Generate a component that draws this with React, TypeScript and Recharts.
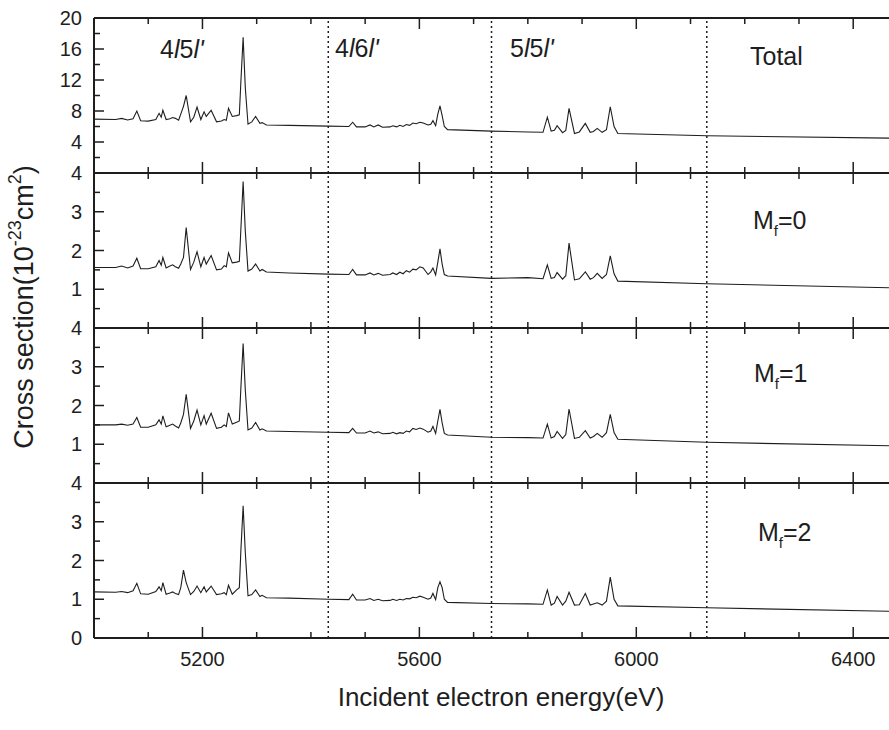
import React from "react";
import { LineChart, Line, XAxis, YAxis, ReferenceLine } from "recharts";

// incident electron energy grid (eV)
const energy = [
	5000, 5040, 5051, 5062, 5072, 5079, 5086, 5100, 5114, 5120, 5124, 5127, 5133,
	5140, 5145, 5150, 5156, 5160, 5165, 5170, 5178, 5184, 5190, 5197, 5203, 5207,
	5216, 5226, 5235, 5240, 5244, 5248, 5255, 5263, 5268, 5271, 5275, 5279, 5284,
	5291, 5298, 5306, 5310, 5318, 5360, 5432, 5470, 5477, 5484, 5500, 5509, 5516,
	5524, 5532, 5546, 5551, 5558, 5564, 5570, 5576, 5582, 5588, 5594, 5601, 5607,
	5616, 5621, 5625, 5630, 5634, 5638, 5642, 5646, 5652, 5733, 5800, 5828, 5836,
	5843, 5849, 5854, 5864, 5870, 5876, 5886, 5895, 5906, 5915, 5921, 5928, 5937,
	5945, 5952, 5959, 5966, 6130, 6466,
];

const total = [
	6.95, 6.9, 7.05, 6.85, 7.0, 8.0, 6.75, 6.7, 6.9, 7.7, 7.2, 8.1, 6.9,
	7.0, 7.15, 7.05, 6.8, 7.6, 8.6, 10.0, 6.6, 7.2, 8.5, 6.9, 7.9, 7.3,
	8.1, 6.6, 6.7, 6.9, 6.8, 8.35, 7.3, 7.4, 7.5, 12.0, 17.5, 11.0, 6.3,
	6.6, 7.3, 6.4, 6.5, 6.2, 6.15, 6.05, 6.0, 6.55, 5.95, 5.95, 6.2, 5.95,
	6.2, 5.9, 5.95, 6.1, 5.95, 6.15, 6.0, 6.25, 6.15, 6.45, 6.35, 6.55, 6.45,
	6.2, 6.3, 6.75, 6.1, 7.6, 8.65, 7.4, 6.0, 5.6, 5.4, 5.3, 5.25, 7.2,
	5.4, 5.5, 6.1, 5.2, 5.5, 8.35, 5.1, 5.3, 6.4, 5.25, 5.35, 5.75, 5.25,
	5.6, 8.55, 6.0, 5.1, 4.8, 4.5,
];

const mf0 = [
	1.56, 1.56, 1.6, 1.55, 1.6, 1.8, 1.53, 1.53, 1.58, 1.74, 1.62, 1.82, 1.55,
	1.6, 1.63, 1.58, 1.54, 1.65, 1.82, 2.59, 1.51, 1.7, 1.97, 1.58, 1.82, 1.65,
	1.87, 1.5, 1.52, 1.61, 1.58, 1.94, 1.68, 1.7, 1.72, 2.6, 3.78, 2.5, 1.47,
	1.52, 1.65, 1.47, 1.51, 1.445, 1.42, 1.39, 1.38, 1.51, 1.37, 1.37, 1.42, 1.37,
	1.41, 1.36, 1.38, 1.42, 1.38, 1.44, 1.4, 1.48, 1.44, 1.52, 1.5, 1.58, 1.55,
	1.38, 1.45, 1.55, 1.37, 1.7, 2.04, 1.65, 1.38, 1.34, 1.28, 1.3, 1.27, 1.63,
	1.28, 1.3, 1.43, 1.26, 1.35, 2.19, 1.24, 1.27, 1.45, 1.26, 1.3, 1.41, 1.28,
	1.38, 1.86, 1.4, 1.21, 1.14, 1.04,
];

const mf1 = [
	1.5, 1.5, 1.52, 1.49, 1.52, 1.69, 1.44, 1.44, 1.5, 1.63, 1.52, 1.73, 1.45,
	1.49, 1.52, 1.47, 1.42, 1.55, 1.77, 2.29, 1.41, 1.6, 1.88, 1.5, 1.74, 1.52,
	1.8, 1.41, 1.44, 1.5, 1.46, 1.81, 1.52, 1.57, 1.6, 2.5, 3.6, 2.4, 1.37,
	1.42, 1.56, 1.37, 1.4, 1.34, 1.33, 1.31, 1.3, 1.41, 1.29, 1.29, 1.34, 1.29,
	1.32, 1.27, 1.28, 1.31, 1.27, 1.3, 1.28, 1.34, 1.32, 1.41, 1.38, 1.42, 1.39,
	1.31, 1.34, 1.46, 1.28, 1.6, 1.9, 1.55, 1.28, 1.24, 1.18, 1.17, 1.16, 1.52,
	1.16, 1.2, 1.33, 1.15, 1.25, 1.91, 1.15, 1.18, 1.35, 1.16, 1.2, 1.28, 1.18,
	1.3, 1.77, 1.3, 1.13, 1.05, 0.96,
];

const mf2 = [
	1.19, 1.18, 1.2, 1.17, 1.22, 1.41, 1.14, 1.13, 1.2, 1.32, 1.22, 1.43, 1.13,
	1.16, 1.19, 1.15, 1.12, 1.3, 1.75, 1.43, 1.12, 1.2, 1.34, 1.17, 1.32, 1.19,
	1.34, 1.12, 1.14, 1.17, 1.12, 1.36, 1.13, 1.24, 1.3, 2.3, 3.41, 2.2, 1.09,
	1.12, 1.24, 1.07, 1.1, 1.04, 1.03, 1.0, 0.99, 1.13, 0.98, 0.98, 1.02, 0.97,
	1.0, 0.96, 0.97, 1.0, 0.97, 1.0, 0.98, 1.02, 1.01, 1.05, 1.04, 1.08, 1.05,
	1.0, 1.03, 1.15, 0.99, 1.3, 1.45, 1.3, 1.0, 0.92, 0.89, 0.88, 0.87, 1.24,
	0.85, 0.9, 1.07, 0.85, 0.95, 1.18, 0.85, 0.86, 1.15, 0.85, 0.88, 0.91, 0.85,
	0.95, 1.57, 1.0, 0.83, 0.78, 0.69,
];

const xTicks = [5000, 5100, 5200, 5300, 5400, 5500, 5600, 5700, 5800, 5900, 6000, 6100, 6200, 6300, 6400];
const xLabels = [5200, 5600, 6000, 6400];
const thresholds = [5432, 5733, 6130];

const totalTicks = [0, 2, 4, 6, 8, 10, 12, 14, 16, 18, 20];
const totalLabels = [4, 8, 12, 16, 20];
const mfTicks = [0, 0.5, 1, 1.5, 2, 2.5, 3, 3.5, 4];
const mfLabels = [1, 2, 3, 4];
const lastLabels = [0, 1, 2, 3, 4];

const INK = "#1e1e1e";
const FONT = "'Liberation Sans', Arial, sans-serif";
const W = 889;
const PANEL_H = 155;
const TOP = 18;
const LEFT = 94;

const panels = [
	{ name: "Total", values: total, max: 20, step: 4, ticks: totalTicks, labels: totalLabels },
	{ name: "Mf0", values: mf0, max: 4, step: 1, ticks: mfTicks, labels: mfLabels },
	{ name: "Mf1", values: mf1, max: 4, step: 1, ticks: mfTicks, labels: mfLabels },
	{ name: "Mf2", values: mf2, max: 4, step: 1, ticks: mfTicks, labels: lastLabels },
];

const makeBottomTick = (showLabels: boolean) => (props: any) => {
	const { x, y, payload } = props;
	const major = xLabels.includes(payload.value);
	return (
		<g>
			<line x1={x} x2={x} y1={y} y2={y - (major ? 11 : 6)} stroke={INK} strokeWidth={1.5} />
			{showLabels && major && (
				<text x={x} y={y + 28} textAnchor="middle" fontSize={20} fontFamily={FONT} fill={INK}>
					{payload.value}
				</text>
			)}
		</g>
	);
};

const topTick = (props: any) => {
	const { x, y, payload } = props;
	const major = xLabels.includes(payload.value);
	return <line x1={x} x2={x} y1={y} y2={y + (major ? 11 : 6)} stroke={INK} strokeWidth={1.5} />;
};

const makeLeftTick = (labels: number[], step: number) => (props: any) => {
	const { x, y, payload } = props;
	const major = Number.isInteger(payload.value / step);
	return (
		<g>
			<line x1={x} x2={x + (major ? 10 : 6)} y1={y} y2={y} stroke={INK} strokeWidth={1.5} />
			{labels.includes(payload.value) && (
				<text x={x - 12} y={y} dy="0.36em" textAnchor="end" fontSize={20} fontFamily={FONT} fill={INK}>
					{payload.value}
				</text>
			)}
		</g>
	);
};

function Panel({ index }: { index: number }) {
	const p = panels[index];
	const last = index === panels.length - 1;
	const mt = 14;
	const mb = last ? 39 : 14;
	const rows = energy.map((e, i) => ({ e, v: p.values[i] }));
	return (
		<div style={{ position: "absolute", left: 0, top: TOP + PANEL_H * index - mt - 1 }}>
			<LineChart width={W} height={PANEL_H + mt + mb + 2} data={rows} margin={{ top: mt, right: 0, bottom: mb, left: 0 }}>
				<XAxis
					dataKey="e"
					type="number"
					domain={[5000, 6466]}
					ticks={xTicks}
					interval={0}
					height={1}
					tickSize={0}
					tickMargin={0}
					tickLine={false}
					axisLine={{ stroke: INK, strokeWidth: 2 }}
					tick={makeBottomTick(last)}
				/>
				<XAxis
					xAxisId="top"
					orientation="top"
					dataKey="e"
					type="number"
					domain={[5000, 6466]}
					ticks={xTicks}
					interval={0}
					height={1}
					tickSize={0}
					tickMargin={0}
					tickLine={false}
					axisLine={{ stroke: INK, strokeWidth: 2 }}
					tick={topTick}
				/>
				<YAxis
					type="number"
					domain={[0, p.max]}
					ticks={p.ticks}
					interval={0}
					width={LEFT}
					tickSize={0}
					tickMargin={0}
					tickLine={false}
					axisLine={{ stroke: INK, strokeWidth: 2 }}
					tick={makeLeftTick(p.labels, p.step)}
				/>
				{thresholds.map((t) => (
					<ReferenceLine key={t} x={t} stroke={INK} strokeWidth={1.5} strokeDasharray="2 3" />
				))}
				<Line
					type="linear"
					dataKey="v"
					stroke={INK}
					strokeWidth={1.1}
					dot={false}
					isAnimationActive={false}
				/>
			</LineChart>
		</div>
	);
}

const Config = ({ x, y, a, b }: { x: number; y: number; a: string; b: string }) => (
	<text x={x} y={y} fontSize={25} fontFamily={FONT} fill={INK}>
		{a}
		<tspan fontStyle="italic">l</tspan>
		{b}
		<tspan fontStyle="italic">l'</tspan>
	</text>
);

const MLabel = ({ x, y, m }: { x: number; y: number; m: number }) => (
	<text x={x} y={y} fontSize={25} fontFamily={FONT} fill={INK}>
		M
		<tspan fontSize={15} dy={7}>f</tspan>
		<tspan dy={-7}>={m}</tspan>
	</text>
);

export default function App() {
	return (
		<div style={{ position: "absolute", left: 0, top: 0, width: W, height: 730, background: "#fff", overflow: "hidden" }}>
			{panels.map((p, i) => (
				<Panel key={p.name} index={i} />
			))}
			<svg width={W} height={730} style={{ position: "absolute", left: 0, top: 0, pointerEvents: "none" }}>
				<Config x={160} y={58} a="4" b="5" />
				<Config x={335} y={57} a="4" b="6" />
				<Config x={510} y={57} a="5" b="5" />
				<text x={750} y={65} fontSize={25} fontFamily={FONT} fill={INK}>
					Total
				</text>
				<MLabel x={753} y={229} m={0} />
				<MLabel x={754} y={382} m={1} />
				<MLabel x={758} y={541} m={2} />
				<text x={501} y={706} textAnchor="middle" fontSize={26} fontFamily={FONT} fill={INK}>
					Incident electron energy(eV)
				</text>
				<text
					x={33}
					y={307}
					transform="rotate(-90 33 307)"
					textAnchor="middle"
					fontSize={27}
					fontFamily={FONT}
					fill={INK}>
					Cross section(10
					<tspan fontSize={18} dy={-12}>-23</tspan>
					<tspan dy={12}>cm</tspan>
					<tspan fontSize={18} dy={-12}>2</tspan>
					<tspan dy={12}>)</tspan>
				</text>
			</svg>
		</div>
	);
}
